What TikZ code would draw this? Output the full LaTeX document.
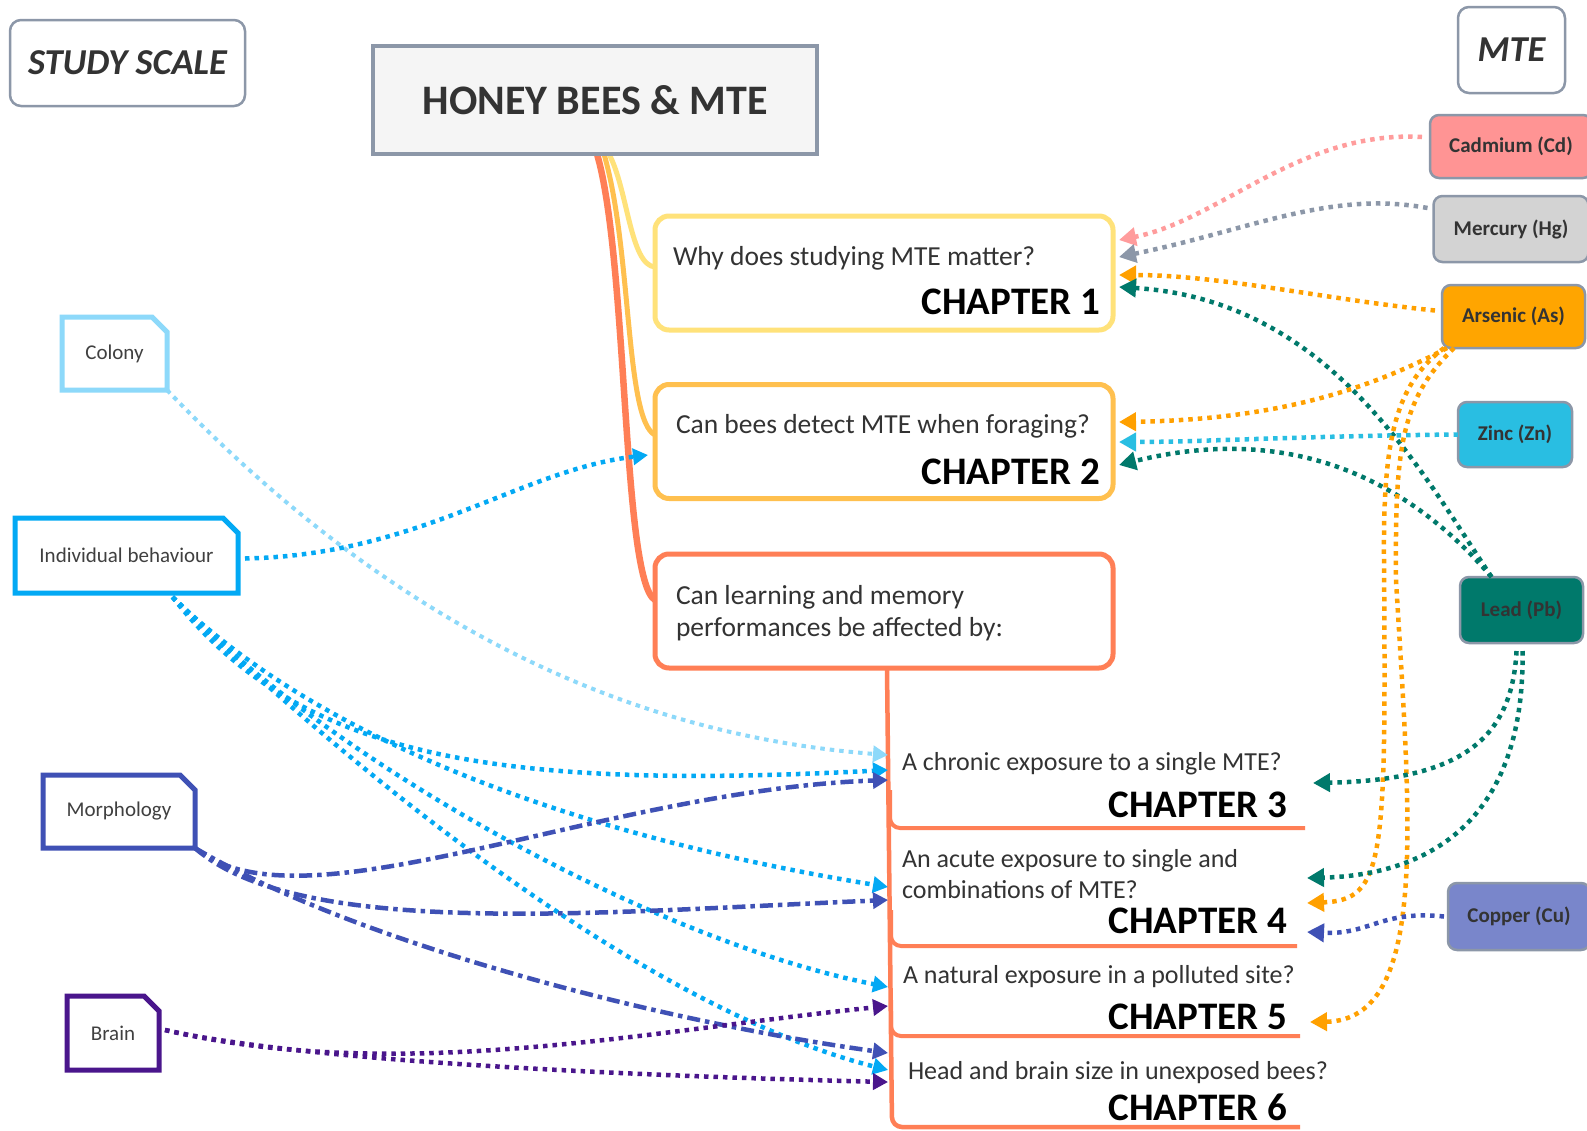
\documentclass[tikz,border=0pt]{standalone}
\usepackage{fontspec}
\setmainfont{Carlito}
\usetikzlibrary{arrows.meta,backgrounds}
\definecolor{gb}{HTML}{8C97A8}
\definecolor{txt}{HTML}{333333}
\definecolor{scaletxt}{HTML}{404040}
\definecolor{honeyf}{HTML}{F5F5F5}
\definecolor{yel}{HTML}{FFE27A}
\definecolor{lor}{HTML}{FFC04F}
\definecolor{cor}{HTML}{FF7F56}
\definecolor{colc}{HTML}{8DD9FA}
\definecolor{indc}{HTML}{03A9F4}
\definecolor{morc}{HTML}{3F51B5}
\definecolor{brc}{HTML}{4A168C}
\definecolor{cdf}{HTML}{FF9494}
\definecolor{cdl}{HTML}{FF9C9C}
\definecolor{hgf}{HTML}{D3D3D3}
\definecolor{asf}{HTML}{FFA500}
\definecolor{asl}{HTML}{FFA000}
\definecolor{znf}{HTML}{29BEE2}
\definecolor{pbf}{HTML}{00796B}
\definecolor{cuf}{HTML}{7986CB}
\begin{document}
\begin{tikzpicture}[x=1pt,y=-1pt,
  every node/.style={inner sep=0pt, outer sep=0pt},
  elem/.style={draw=gb, line width=2.5pt, rounded corners=9pt, text=txt, font=\fontsize{21}{25}\selectfont\bfseries},
  hdr/.style={draw=gb, line width=2.5pt, rounded corners=11pt, fill=white, text=txt, font=\fontsize{36.5}{42}\selectfont\bfseries\itshape},
  scl/.style={text=scaletxt, font=\fontsize{21}{25}\selectfont, minimum height=73pt},
  sclline/.style={line width=5pt, line join=miter},
  chb/.style={line width=5pt, rounded corners=14pt, fill=white, minimum width=458pt, minimum height=114pt},
  qtxt/.style={text=txt, font=\fontsize{27.5}{32}\selectfont, anchor=base west},
  qtxtb/.style={text=txt, font=\fontsize{26}{31}\selectfont, anchor=base west},
  chap/.style={text=black, font=\fontsize{39}{46}\selectfont\bfseries, anchor=base east},
  arrL/.style={-{Triangle[length=15pt,width=16pt]}},
  arrR/.style={-{Triangle[length=17pt,width=18pt]}},
  dotl/.style={line width=4.5pt, dash pattern=on 4.5pt off 5pt},
  ddl/.style={line width=4.5pt, dash pattern=on 13pt off 5pt on 4.5pt off 5pt},
  branch/.style={line cap=round}
]
\useasboundingbox (0,0) rectangle (1587,1130);

% ---------- header nodes ----------
\node[hdr, minimum width=235pt, minimum height=86pt] (study) at (127.5,63) {STUDY SCALE};
\node[draw=gb, line width=3.5pt, fill=honeyf, minimum width=444pt, minimum height=108pt, text=txt, font=\fontsize{42}{50}\selectfont\bfseries] (honey) at (595,100) {HONEY BEES \& MTE};
\node[hdr, minimum width=107pt, minimum height=86pt] (mte) at (1511.5,50) {MTE};

% ---------- MTE elements ----------
\node[elem, fill=cdf, minimum width=162pt, minimum height=63pt] (cd) at (1511,146.5) {Cadmium (Cd)};
\node[elem, fill=hgf, minimum width=155pt, minimum height=66pt] (hg) at (1511,229) {Mercury (Hg)};
\node[elem, fill=asf, minimum width=143pt, minimum height=63pt] (as) at (1513.5,316.5) {Arsenic (As)};
\node[elem, fill=znf, minimum width=114pt, minimum height=65pt] (zn) at (1515,434.5) {Zinc (Zn)};
\node[elem, fill=pbf, minimum width=123pt, minimum height=66pt] (pb) at (1521.5,610) {Lead (Pb)};
\node[elem, fill=cuf, minimum width=142pt, minimum height=67pt] (cu) at (1519,916.5) {Copper (Cu)};

% ---------- study scale nodes ----------
\node[scl, minimum width=105pt] (colony) at (114.5,353.5) {Colony};
\node[scl, minimum width=223pt, minimum height=75pt] (ind) at (126.5,555.5) {Individual behaviour};
\node[scl, minimum width=152pt] (morph) at (119,811.5) {Morphology};
\node[scl, minimum width=92pt, minimum height=74pt] (brain) at (113,1033) {Brain};
\foreach \n/\c in {colony/colc, ind/indc, morph/morc, brain/brc}{
  \draw[sclline, \c] (\n.south west) -- (\n.north west) -- ([xshift=-15pt]\n.north east) -- ([yshift=-15pt]\n.north east) -- (\n.south east) -- cycle;
}

% ---------- chapter boxes ----------
\node[chb, draw=yel] (ch1) at (884,273) {};
\node[chb, draw=lor] (ch2) at (884,441.5) {};
\node[chb, draw=cor] (ch3) at (884,611) {};

\node[qtxt] (q1) at (673,265) {Why does studying MTE matter?};
\node[chap] (k1) at (1100,314) {CHAPTER 1};
\node[qtxt] (q2) at (676,433) {Can bees detect MTE when foraging?};
\node[chap] (k2) at (1100,484) {CHAPTER 2};
\node[qtxt] (q3a) at (676,604) {Can learning and memory};
\node[qtxt] (q3b) at (676,636) {performances be affected by:};
\node[qtxtb] (q4) at (902,770) {A chronic exposure to a single MTE?};
\node[chap] (k3) at (1287,817) {CHAPTER 3};
\node[qtxtb] (q5a) at (902,867) {An acute exposure to single and};
\node[qtxtb] (q5b) at (902,898) {combinations of MTE?};
\node[chap] (k4) at (1287,933) {CHAPTER 4};
\node[qtxtb] (q6) at (903,983) {A natural exposure in a polluted site?};
\node[chap] (k5) at (1287,1029) {CHAPTER 5};
\node[qtxtb] (q7) at (908,1079) {Head and brain size in unexposed bees?};
\node[chap] (k6) at (1287,1120) {CHAPTER 6};

% ---------- arrow tips ----------
\coordinate (t2) at (648,455);
\coordinate (t3a) at (888,755);
\coordinate (t3b) at (888,770);
\coordinate (t3c) at (888,780);
\coordinate (t4a) at (888,887);
\coordinate (t4b) at (888,900);
\coordinate (t5a) at (888,987);
\coordinate (t5b) at (888,1006);
\coordinate (t6a) at (888,1053);
\coordinate (t6b) at (888,1070);
\coordinate (t6c) at (888,1082);
\coordinate (r1a) at (1119,240);
\coordinate (r1b) at (1119,257);
\coordinate (r1c) at (1119,275);
\coordinate (r1d) at (1119,287);
\coordinate (r2a) at (1119,422);
\coordinate (r2b) at (1119,442);
\coordinate (r2c) at (1119,465);
\coordinate (r3) at (1313,783);
\coordinate (r4a) at (1307,878);
\coordinate (r4b) at (1307,903);
\coordinate (r4c) at (1307,932);
\coordinate (r5) at (1310,1022);

% ---------- background: branches and trunk ----------
\begin{pgfonlayer}{background}
\fill[white] (0,0) rectangle (1587,1130);
\draw[branch, cor, line width=6.5pt] ([xshift=2pt]honey.south) .. controls (628,260) and (622,580) .. ([yshift=11pt]ch3.west);
\draw[branch, lor, line width=5pt] ([xshift=9pt]honey.south) .. controls (632,250) and (625,420) .. ([yshift=6.5pt]ch2.west);
\draw[branch, yel, line width=5pt] ([xshift=14pt]honey.south) .. controls (628,190) and (630,265) .. ([yshift=6pt]ch1.west);
\draw[cor, line width=4.5pt, rounded corners=10pt] ([xshift=3pt]ch3.south) -- (892,1127) -- (1300,1127);
\draw[cor, line width=4pt, rounded corners=10pt] (890,790) |- (1305,828);
\draw[cor, line width=4pt, rounded corners=10pt] (891,910) |- (1297,946);
\draw[cor, line width=4pt, rounded corners=10pt] (891,1000) |- (1300,1036);
\end{pgfonlayer}

% ---------- left connectors ----------
\draw[dotl, colc, line width=4pt, arrL] (colony.south east) .. controls (330,560) and (560,730) .. (t3a);
\draw[dotl, indc, arrL] ([xshift=7pt,yshift=-3pt]ind.east) .. controls (420,555) and (520,470) .. (t2);
\draw[dotl, indc, arrL] ([xshift=46pt,yshift=-4pt]ind.south) .. controls (300,760) and (500,790) .. (t3b);
\draw[dotl, indc, arrL] ([xshift=46pt,yshift=-4pt]ind.south) .. controls (330,750) and (600,840) .. (t4a);
\draw[dotl, indc, arrL] ([xshift=46pt,yshift=-4pt]ind.south) .. controls (330,760) and (650,940) .. (t5a);
\draw[dotl, indc, arrL] ([xshift=46pt,yshift=-4pt]ind.south) .. controls (360,780) and (650,1010) .. (t6b);
\draw[ddl, morc, arrL] (morph.south east) .. controls (300,935) and (600,790) .. (t3c);
\draw[ddl, morc, arrL] (morph.south east) .. controls (300,940) and (600,912) .. (t4b);
\draw[ddl, morc, arrL] (morph.south east) .. controls (350,940) and (650,1020) .. (t6a);
\draw[dotl, brc, arrL] ([xshift=6pt,yshift=3pt]brain.east) .. controls (400,1085) and (650,1030) .. (t5b);
\draw[dotl, brc, arrL] ([xshift=6pt,yshift=3pt]brain.east) .. controls (300,1060) and (600,1075) .. (t6c);

% ---------- right connectors ----------
\draw[dotl, cdl, arrR] ([xshift=-8pt,yshift=9.5pt]cd.west) .. controls (1300,130) and (1220,220) .. (r1a);
\draw[dotl, gb, arrR] ([xshift=-6pt,yshift=21pt]hg.west) .. controls (1330,190) and (1250,230) .. (r1b);
\draw[dotl, asl, arrR] ([xshift=-7pt,yshift=6pt]as.west) .. controls (1330,300) and (1220,275) .. (r1c);
\draw[dotl, pbf, arrR] ([xshift=-30pt]pb.north) .. controls (1420,470) and (1330,300) .. (r1d);
\draw[dotl, asl, arrR] ([xshift=5pt]as.south west) .. controls (1350,400) and (1250,420) .. (r2a);
\draw[dotl, znf, arrR] (zn.west) .. controls (1300,436) and (1200,442) .. (r2b);
\draw[dotl, pbf, arrR] ([xshift=-30pt]pb.north) .. controls (1400,470) and (1280,425) .. (r2c);
\draw[dotl, asl, arrR] ([xshift=2pt]as.south west) .. controls (1395,385) and (1383,440) .. (1384,560) .. controls (1386,860) and (1385,900) .. (r4b);
\draw[dotl, asl, arrR] ([xshift=12pt]as.south west) .. controls (1400,400) and (1395,450) .. (1396,580) .. controls (1410,820) and (1430,1020) .. (r5);
\draw[dotl, pbf, arrR] ([xshift=-5pt,yshift=-8pt]pb.south) .. controls (1512,740) and (1460,780) .. (r3);
\draw[dotl, pbf, arrR] ([xshift=1pt,yshift=-8pt]pb.south) .. controls (1525,820) and (1430,875) .. (r4a);
\draw[dotl, morc, arrR] ([xshift=-4pt]cu.west) .. controls (1380,910) and (1370,935) .. (r4c);
\end{tikzpicture}
\end{document}
